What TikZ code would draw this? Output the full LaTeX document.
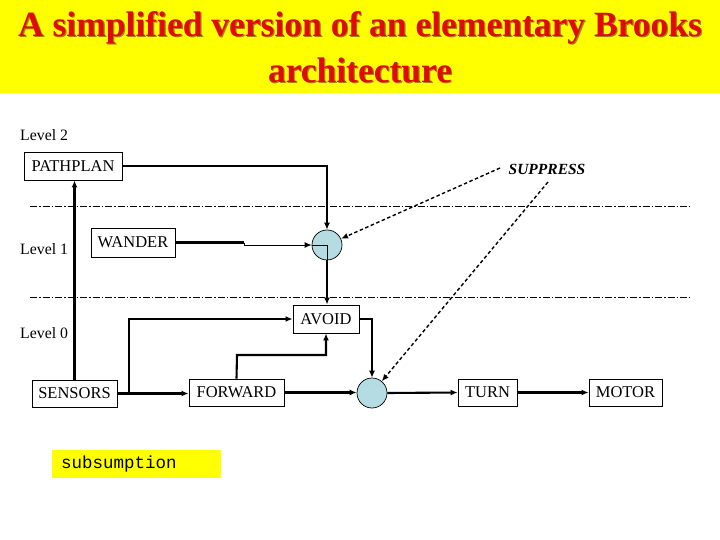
\documentclass[tikz,border=0pt]{standalone}
\usepackage{fontspec}
\setmainfont{Liberation Serif}
\setmonofont{Liberation Mono}
\usetikzlibrary{arrows.meta}
\definecolor{titleyellow}{RGB}{255,255,0}
\definecolor{titlered}{RGB}{225,10,10}
\definecolor{shadowgray}{RGB}{170,130,20}
\definecolor{circblue}{RGB}{180,220,226}
\tikzset{
  box/.style={draw, line width=0.9pt, inner sep=0pt, font=\fontsize{16.5}{18}\selectfont},
  junction/.style={draw, line width=0.7pt, circle, fill=circblue, minimum size=30pt, inner sep=0pt},
  wire/.style={line width=2.1pt},
  arr/.style={-{Latex[length=7pt,width=6pt]}},
  levelline/.style={line width=0.8pt, dash pattern=on 7pt off 2pt on 1.5pt off 2pt},
  suppline/.style={line width=1.4pt, dash pattern=on 3.5pt off 2.5pt},
  lbl/.style={anchor=west, inner sep=0pt, font=\fontsize{15.8}{17}\selectfont},
  ttl/.style={font=\fontsize{35.5}{40}\selectfont\bfseries, inner sep=0pt}
}
\begin{document}
\begin{tikzpicture}[x=1pt, y=-1pt]
\useasboundingbox (0,0) rectangle (720,540);
\fill[white] (0,0) rectangle (720,540);
% title band
\fill[titleyellow] (0,0) rectangle (720,93);
\node[ttl, text=shadowgray] at (361.2,29.2) {A simplified version of an elementary Brooks};
\node[ttl, text=titlered] (t1) at (360,28) {A simplified version of an elementary Brooks};
\node[ttl, text=shadowgray] at (361.2,71.2) {architecture};
\node[ttl, text=titlered] (t2) at (360,70) {architecture};

% level labels
\node[lbl] (l2) at (20,135) {Level 2};
\node[lbl] (l1) at (20,249) {Level 1};
\node[lbl] (l0) at (20,333) {Level 0};

% level separators
\draw[levelline] (30,206) -- (690,206);
\draw[levelline] (30,297) -- (690,297);

% boxes
\node[box, minimum width=98pt, minimum height=28pt] (pathplan) at (73,166) {PATHPLAN};
\node[box, minimum width=84pt, minimum height=29pt] (wander) at (133,242.5) {WANDER};
\node[box, minimum width=66pt, minimum height=28pt] (avoid) at (326,319) {AVOID};
\node[box, minimum width=85pt, minimum height=27pt] (sensors) at (74.5,393.5) {SENSORS};
\node[box, minimum width=95pt, minimum height=27pt] (forward) at (236.5,392.5) {FORWARD};
\node[box, minimum width=59pt, minimum height=27pt] (turn) at (487.5,392.5) {TURN};
\node[box, minimum width=73pt, minimum height=27pt] (motor) at (625.5,392.5) {MOTOR};

% junctions
\node[junction] (c1) at (327,245) {};
\node[junction] (c2) at (372,393) {};

% suppress
\node[inner sep=0pt, font=\fontsize{15.5}{17}\selectfont\bfseries\itshape] (supp) at (547,169) {SUPPRESS};
\coordinate (s1) at (500,168);
\coordinate (s2) at (548,182);
\draw[suppline, arr] (s1) -- (c1);
\draw[suppline, arr] (s2) -- (c2);

% level 2 wires
\draw[wire, arr] (pathplan.east) -| (c1.north);
\draw[wire, arr] (sensors.north) -- (sensors.north |- pathplan.south);

% level 1 wires
\coordinate (wj) at (244,242.5);
\draw[wire] (wander.east) -- (wj);
\draw[line width=1pt, arr] (wj) -- (wj |- c1.west) -- (c1.west);
\draw[line width=1pt] (c1.west) -- (c1.center) -- (c1.south);
\draw[wire, arr] (c1.south) -- (c1.south |- avoid.north);

% level 0 wires
\coordinate (br) at (129,393.5);
\draw[wire, arr] (sensors.east) -- (sensors.east -| forward.west);
\draw[wire, arr] (br) |- (avoid.west);
\coordinate (fu) at (237,355);
\draw[wire, arr] (forward.north) -- (fu) -| (avoid.south);
\draw[wire, arr] (forward.east) -- (forward.east -| c2.west);
\draw[wire, arr] (avoid.east) -| (c2.north);
\draw[wire, arr] (c2.east) -- (turn.west);
\draw[wire, arr] (turn.east) -- (motor.west);

% subsumption label
\fill[titleyellow] (52,450) rectangle (221,478);
\node[anchor=west, inner sep=0pt, font=\ttfamily\fontsize{17.5}{19}\selectfont] (sub) at (61,464) {subsumption};
\end{tikzpicture}
\end{document}
